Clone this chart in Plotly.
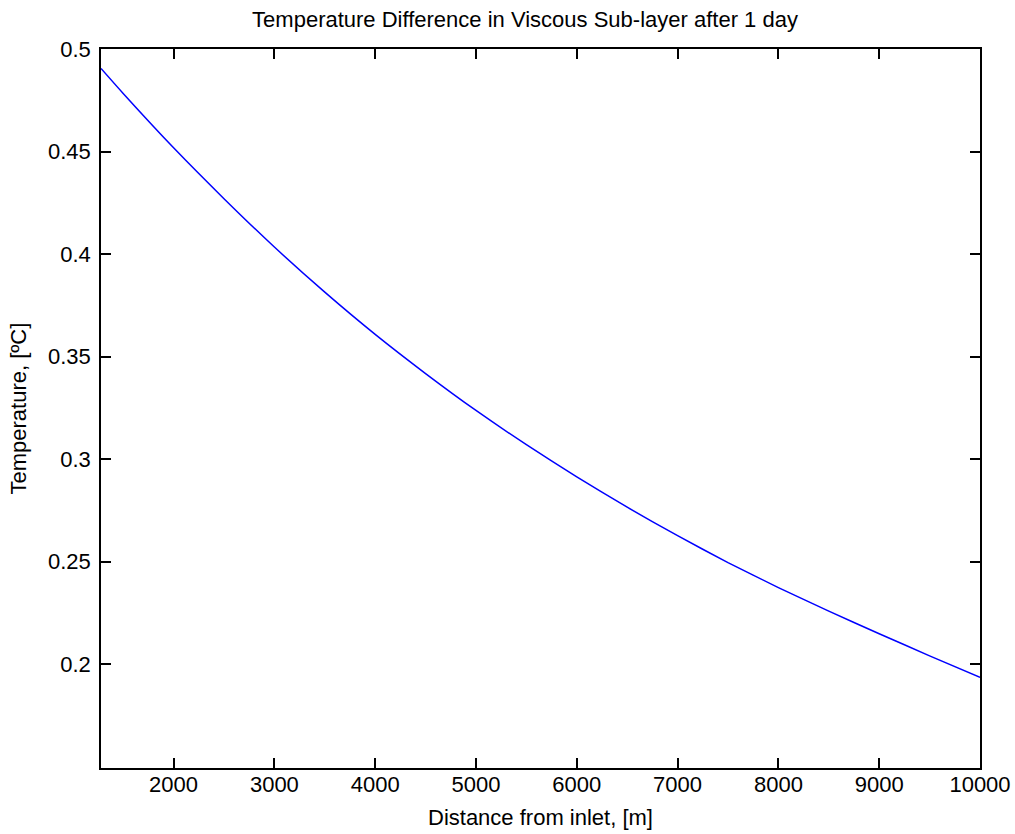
import plotly.graph_objects as go

# Data
distance_m = [1280, 1500, 2000, 2500, 3000, 3500, 4000, 4500, 5000, 5500,
              6000, 6500, 7000, 7500, 8000, 8500, 9000, 9500, 10000]
temp_diff_c = [0.4905, 0.4783, 0.4518, 0.4270, 0.4034, 0.3814, 0.3608, 0.3417,
               0.3237, 0.3070, 0.2913, 0.2765, 0.2626, 0.2495, 0.2373, 0.2258,
               0.2148, 0.2040, 0.1935]

x_ticks = [2000, 3000, 4000, 5000, 6000, 7000, 8000, 9000, 10000]
x_tick_labels = ["2000", "3000", "4000", "5000", "6000", "7000", "8000", "9000", "10000"]
y_ticks = [0.2, 0.25, 0.3, 0.35, 0.4, 0.45, 0.5]
y_tick_labels = ["0.2", "0.25", "0.3", "0.35", "0.4", "0.45", "0.5"]

title_text = "Temperature Difference in Viscous Sub-layer after 1 day"
x_title = "Distance from inlet, [m]"
y_title = "Temperature, [ºC]"

FONT = "Liberation Sans, Arial, sans-serif"
FS = 22
W, H = 1015, 834

fig = go.Figure()
fig.add_trace(go.Scatter(
    x=distance_m, y=temp_diff_c, mode="lines",
    line=dict(color="#0000ff", width=1.5, shape="spline", smoothing=0.5),
    showlegend=False, hoverinfo="x+y",
))

axis_common = dict(
    showgrid=False, zeroline=False, showline=True, linecolor="black", linewidth=1.6,
    mirror="ticks", ticks="inside", ticklen=10, tickwidth=1.5, tickcolor="black",
    tickfont=dict(family=FONT, size=FS, color="black"),
)

fig.update_layout(
    width=W, height=H,
    margin=dict(l=101, r=35, t=49, b=66, autoexpand=False),
    paper_bgcolor="white", plot_bgcolor="white",
    font=dict(family=FONT, size=FS, color="black"),
    title=dict(text=title_text, x=525 / W, xanchor="center", xref="container",
               y=1 - 19 / H, yref="container", yanchor="middle",
               font=dict(family=FONT, size=FS, color="black")),
    xaxis=dict(range=[1280, 10000], tickvals=x_ticks, ticktext=x_tick_labels,
               ticklabelstandoff=-4, **axis_common),
    yaxis=dict(range=[0.1493, 0.5], tickvals=y_ticks, ticktext=y_tick_labels,
               ticklabelstandoff=4, **axis_common),
    annotations=[
        dict(text=x_title, xref="paper", yref="paper", x=0.5, y=0, yshift=-49,
             xanchor="center", yanchor="middle", showarrow=False,
             font=dict(family=FONT, size=FS, color="black")),
        dict(text=y_title, xref="paper", yref="paper", x=0, y=0.5, xshift=-83,
             xanchor="center", yanchor="middle", textangle=-90, showarrow=False,
             font=dict(family=FONT, size=FS, color="black")),
    ],
)

fig.write_html("out.html",
               config={"displayModeBar": False},
               post_script="document.body.style.margin='0px';document.body.style.overflow='hidden';")
